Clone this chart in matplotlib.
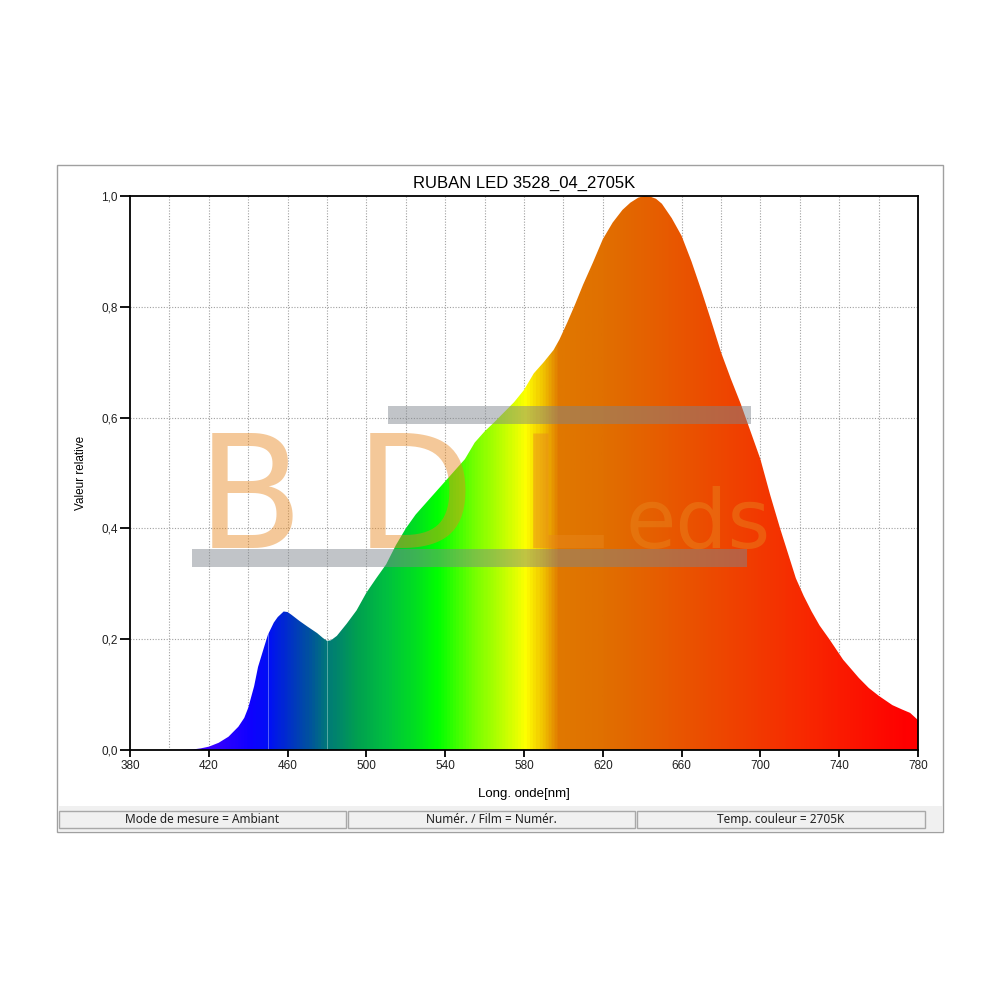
import numpy as np
import matplotlib.pyplot as plt
from matplotlib.colors import LinearSegmentedColormap
from matplotlib.patches import Rectangle, Polygon

plt.rcParams['font.family'] = ['Liberation Sans', 'DejaVu Sans']

# spectrum (nm, relative value)
wavelength = [380, 405, 412, 416, 420, 425, 430, 435, 438, 440, 443, 445, 448, 450,
              453, 455, 458, 460, 462, 466, 470, 475, 478, 480, 482, 485, 490, 495,
              500, 505, 510, 515, 520, 525, 530, 535, 540, 545, 550, 555, 560, 565,
              570, 575, 580, 585, 590, 595, 598, 602, 606, 610, 615, 620, 625, 630,
              634, 638, 641, 644, 647, 650, 655, 660, 665, 670, 675, 680, 685, 690,
              695, 700, 705, 710, 714, 718, 722, 726, 730, 735, 742, 750, 755, 760,
              767, 772, 776, 780]
intensity = [0, 0, 0.001, 0.003, 0.006, 0.013, 0.024, 0.042, 0.058, 0.076, 0.115, 0.15,
             0.185, 0.208, 0.23, 0.24, 0.25, 0.249, 0.244, 0.233, 0.223, 0.211, 0.202,
             0.197, 0.198, 0.206, 0.228, 0.252, 0.284, 0.31, 0.335, 0.37, 0.40, 0.425,
             0.445, 0.465, 0.485, 0.505, 0.525, 0.555, 0.575, 0.592, 0.61, 0.628, 0.65,
             0.68, 0.70, 0.722, 0.741, 0.772, 0.805, 0.84, 0.88, 0.922, 0.952, 0.975,
             0.988, 0.997, 1.0, 0.999, 0.995, 0.986, 0.96, 0.928, 0.882, 0.83, 0.775,
             0.718, 0.67, 0.625, 0.575, 0.525, 0.46, 0.40, 0.355, 0.31, 0.278, 0.25,
             0.225, 0.20, 0.163, 0.13, 0.112, 0.098, 0.081, 0.073, 0.067, 0.054]

# colour of the fill along the wavelength axis
color_nm = [380, 420, 440, 450, 460, 470, 480, 495, 510, 525, 536, 554, 571, 581,
            590, 598, 620, 656, 690, 724, 775, 780]
color_hex = ['#4000ff', '#3a00ff', '#1000ff', '#0010f5', '#0030c8', '#0050a0',
             '#007a78', '#00a050', '#00c040', '#00e020', '#00ff00', '#70ff00',
             '#c8ff00', '#ffff00', '#f0c000', '#e07800', '#e07000', '#e85800',
             '#f04000', '#f82800', '#ff0000', '#ff0000']

title = "RUBAN LED 3528_04_2705K"
xticks = [380, 420, 460, 500, 540, 580, 620, 660, 700, 740, 780]
yticks = [0.0, 0.2, 0.4, 0.6, 0.8, 1.0]
status = ["Mode de mesure = Ambiant", "Numér. / Film = Numér.", "Temp. couleur = 2705K"]


def fx(x):
    return x / 1000


def fy(y):
    return 1 - y / 1000


fig = plt.figure(figsize=(10, 10), dpi=100)

# outer frame and status bar
fig.patches.append(Rectangle((fx(57), fy(832)), fx(943 - 57), (832 - 165) / 1000,
                             transform=fig.transFigure, fill=False, ec='#a0a0a0', lw=1))
fig.patches.append(Rectangle((fx(58), fy(831)), fx(942 - 58), 25 / 1000,
                             transform=fig.transFigure, fc='#f0f0f0', ec='none'))
panels = [(59, 346), (348, 635), (637, 925)]
for (x0, x1), s in zip(panels, status):
    fig.patches.append(Rectangle((fx(x0), fy(828)), fx(x1 - x0), 17 / 1000,
                                 transform=fig.transFigure, fc='#f0f0f0', ec='#a8a8a8', lw=1))
    fig.text(fx((x0 + x1) / 2), fy(819.5), s, ha='center', va='center',
             fontsize=8.5, family=['Noto Sans', 'DejaVu Sans'], color='#202020')

ax = fig.add_axes([0.130, 0.250, 0.788, 0.554])
ax.set_xlim(380, 780)
ax.set_ylim(0, 1)

# grid
for g in range(400, 780, 20):
    ax.axvline(g, color='#a0a0a0', lw=0.8, ls=(0, (1, 1.5)), zorder=0)
for g in [0.2, 0.4, 0.6, 0.8]:
    ax.axhline(g, color='#a0a0a0', lw=0.8, ls=(0, (1, 1.5)), zorder=0)

# gradient fill clipped to the spectrum
pos = [(c - 380) / 400 for c in color_nm]
cmap = LinearSegmentedColormap.from_list('spec', list(zip(pos, color_hex)))
grad = np.linspace(0, 1, 800).reshape(1, -1)
im = ax.imshow(grad, extent=[380, 780, 0, 1], aspect='auto', cmap=cmap,
               origin='lower', zorder=1, interpolation='bilinear')
verts = list(zip(wavelength, intensity)) + [(780, 0), (380, 0)]
poly = Polygon(verts, closed=True, fc='none', ec='none', transform=ax.transData)
ax.add_patch(poly)
im.set_clip_path(poly)
for w in [450, 480]:
    ln = ax.axvline(w, color='white', lw=0.7, alpha=0.35, zorder=2)
    ln.set_clip_path(poly)

for sp in ax.spines.values():
    sp.set_linewidth(1.3)
    sp.set_color('black')

ax.set_xticks(xticks)
ax.set_xticklabels([str(t) for t in xticks])
ax.set_yticks(yticks)
ax.set_yticklabels([f"{t:.1f}".replace('.', ',') for t in yticks])
ax.tick_params(axis='both', labelsize=8.5, colors='black', labelcolor='#202020')
ax.tick_params(axis='y', length=7, width=1.3, pad=2)
ax.tick_params(axis='x', length=5, width=1.3, pad=2)

ax.set_title(title, fontsize=12, pad=6)
ax.set_xlabel("Long. onde[nm]", fontsize=9.5, labelpad=12)
ax.set_ylabel("Valeur relative", fontsize=8.5, labelpad=10)

# watermark
wm = '#e8871e'
for letter, x in zip("BDL", [197, 355, 518]):
    fig.text(fx(x), fy(548), letter, fontsize=112, color=wm, alpha=0.45,
             ha='left', va='baseline', family=['DejaVu Sans'])
fig.text(fx(625), fy(548), "eds", fontsize=59, color=wm, alpha=0.45,
         ha='left', va='baseline', family=['DejaVu Sans'])
for (x0, x1, y0, y1) in [(192, 747, 549, 567), (388, 751, 406, 424)]:
    fig.patches.append(Rectangle((fx(x0), fy(y1)), fx(x1 - x0), (y1 - y0) / 1000,
                                 transform=fig.transFigure, fc='#7f858c', ec='none',
                                 alpha=0.48, zorder=5))

fig.savefig("out.png", dpi=100)
